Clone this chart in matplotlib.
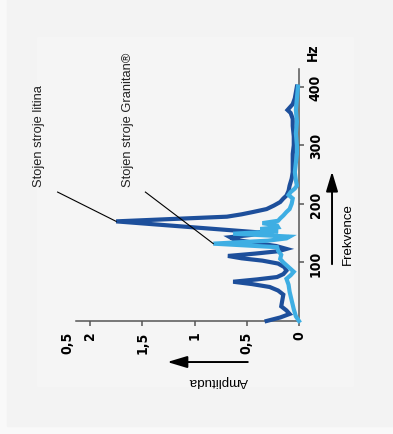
import matplotlib
matplotlib.use('Agg')
import matplotlib.pyplot as plt
from matplotlib.patches import Rectangle

# Stojen stroje litina (cast iron) - frequency in Hz, amplitude
iron_freq = [0, 6, 12, 18, 25, 35, 45, 52, 58, 63, 67, 71, 75, 80, 86, 92, 98, 103,
             107, 111, 115, 119, 123, 128, 134, 139, 143, 147, 151, 170, 178, 182,
             186, 191, 197, 203, 209, 214, 222, 231, 243, 254, 270, 285, 300, 315,
             333, 345, 355, 360, 364, 370, 380, 390, 400]
iron_amp = [0.31, 0.18, 0.09, 0.12, 0.17, 0.16, 0.15, 0.2, 0.28, 0.45, 0.63, 0.4,
            0.21, 0.15, 0.12, 0.14, 0.2, 0.35, 0.55, 0.68, 0.42, 0.2, 0.12, 0.22,
            0.45, 0.62, 0.66, 0.45, 0.37, 1.75, 0.69, 0.55, 0.44, 0.31, 0.24, 0.18,
            0.15, 0.12, 0.1, 0.09, 0.07, 0.06, 0.06, 0.06, 0.05, 0.05, 0.06, 0.06,
            0.08, 0.11, 0.09, 0.06, 0.04, 0.03, 0.02]

# Stojen stroje Granitan
granitan_freq = [0, 8, 20, 35, 50, 62, 72, 78, 84, 92, 100, 106, 113, 120, 126, 132,
                 137, 141, 144, 149, 153, 157, 160, 163, 167, 171, 175, 180, 186, 191,
                 200, 209, 215, 220, 226, 231, 240, 254, 270, 285, 300, 320, 340, 360,
                 380, 400]
granitan_amp = [0.0, 0.03, 0.05, 0.07, 0.09, 0.1, 0.12, 0.08, 0.05, 0.1, 0.15, 0.18,
                0.17, 0.2, 0.21, 0.82, 0.3, 0.12, 0.09, 0.63, 0.2, 0.37, 0.2, 0.21,
                0.35, 0.2, 0.18, 0.15, 0.12, 0.09, 0.07, 0.06, 0.1, 0.08, 0.04, 0.02,
                0.03, 0.04, 0.03, 0.02, 0.02, 0.03, 0.02, 0.03, 0.02, 0.01]

amp_ticks = [0, 0.5, 1, 1.5, 2]
amp_labels = ['0', '0,5', '1', '1,5', '2']
freq_ticks = [100, 200, 300, 400]
freq_labels = ['100', '200', '300', '400']

W, H = 393, 435
plain = ['Liberation Sans', 'DejaVu Sans']
bold = dict(family=['DejaVu Sans'], fontstretch='condensed', fontweight='bold', fontsize=10)


def box(x0, y0, x1, y1):
    # pixel box (top-left origin) -> figure fraction rectangle
    return (x0 / W, 1 - y1 / H), (x1 - x0) / W, (y1 - y0) / H


fig = plt.figure(figsize=(W / 100, H / 100), dpi=100, facecolor='#f9f9f9')
xy, w, h = box(7, 0, 393, 427)
fig.add_artist(Rectangle(xy, w, h, transform=fig.transFigure, color='#f3f3f3', zorder=-3))
xy, w, h = box(37, 38, 353, 387)
fig.add_artist(Rectangle(xy, w, h, transform=fig.transFigure, color='#f5f5f5', zorder=-2))

ax = fig.add_axes([76 / W, 113 / H, 223 / W, 252 / H])
ax.patch.set_alpha(0)

ax.plot(iron_amp, iron_freq, color='#1d4f9b', lw=3.0, solid_joinstyle='miter',
        clip_on=False, zorder=3)
ax.plot(granitan_amp, granitan_freq, color='#3eaee3', lw=3.0, solid_joinstyle='miter',
        clip_on=False, zorder=4)

ax.set_xlim(2.134, 0)
ax.set_ylim(0, 430)

for side in ('top', 'left'):
    ax.spines[side].set_visible(False)
for side in ('bottom', 'right'):
    ax.spines[side].set_color('#555555')
    ax.spines[side].set_linewidth(1.1)

ax.yaxis.tick_right()
ax.set_xticks(amp_ticks)
ax.set_xticklabels(amp_labels, rotation=90, **bold)
ax.set_yticks(freq_ticks)
ax.set_yticklabels(freq_labels, rotation=90, va='center', **bold)
ax.tick_params(axis='both', length=3.6, width=1.1, color='#555555', pad=3.4)

# stray label past the end of the amplitude axis
ax.annotate('0,5', xy=(2.22, 0), xycoords=('data', 'axes fraction'),
            xytext=(0, -7), textcoords='offset points', rotation=90,
            ha='center', va='top', **bold)
ax.annotate('Hz', xy=(1, 460), xycoords=('axes fraction', 'data'),
            xytext=(10, 0), textcoords='offset points', rotation=90,
            ha='center', va='center', annotation_clip=False, **bold)

# direction arrows and axis names
ax.annotate('', xy=(-0.316, 255), xytext=(-0.316, 97), annotation_clip=False,
            arrowprops=dict(arrowstyle='-|>,head_length=1.0,head_width=0.3',
                            mutation_scale=12, lw=1.4, color='black',
                            shrinkA=0, shrinkB=0))
ax.text(-0.47, 97, 'Frekvence', rotation=90, ha='center', va='bottom',
        family=plain, fontsize=9.5, clip_on=False)
ax.annotate('', xy=(1.26, -70), xytext=(0.49, -70), annotation_clip=False,
            arrowprops=dict(arrowstyle='-|>,head_length=1.0,head_width=0.3',
                            mutation_scale=12, lw=1.4, color='black',
                            shrinkA=0, shrinkB=0))
ax.text(0.775, -101, 'Amplituda', rotation=180, ha='center', va='center',
        family=plain, fontsize=9.6, clip_on=False)

# series labels with leader lines to their peaks
iron_peak = iron_amp.index(max(iron_amp))
granitan_peak = granitan_amp.index(max(granitan_amp))
ax.plot([2.31, iron_amp[iron_peak]], [220, iron_freq[iron_peak]],
        color='black', lw=0.8, clip_on=False, zorder=5)
ax.plot([1.47, granitan_amp[granitan_peak]], [220, granitan_freq[granitan_peak]],
        color='black', lw=0.8, clip_on=False, zorder=5)
ax.text(2.49, 231, 'Stojen stroje litina', rotation=90, ha='center', va='bottom',
        family=plain, fontsize=9.3, color='#222222', clip_on=False)
ax.text(1.64, 231, 'Stojen stroje Granitan®', rotation=90, ha='center', va='bottom',
        family=plain, fontsize=9.3, color='#222222', clip_on=False)

fig.savefig('out.png', dpi=100, facecolor=fig.get_facecolor())
plt.close(fig)
